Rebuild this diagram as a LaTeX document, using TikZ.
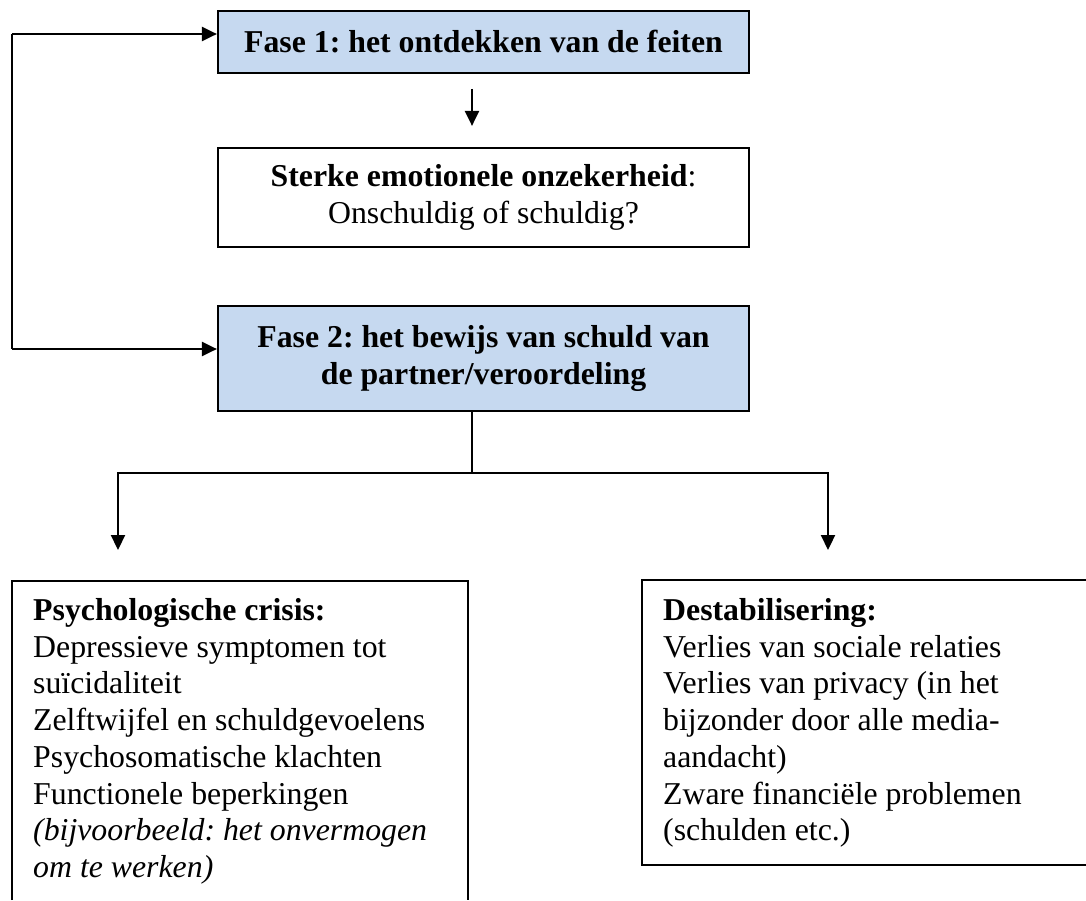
\documentclass[tikz,border=0pt]{standalone}
\usepackage{fontspec}
\setmainfont{Liberation Serif}
\usetikzlibrary{arrows.meta}
\definecolor{phaseblue}{RGB}{198,217,240}
\tikzset{
  txt/.style={font=\fontsize{31.8}{36.7}\selectfont\frenchspacing, inner sep=0pt},
  phasebox/.style={draw=black, line width=2.2pt, fill=phaseblue, txt, align=center, minimum width=531pt},
  plainbox/.style={draw=black, line width=2.2pt, fill=white, txt, align=center, minimum width=531pt},
  arr/.style={line width=2.2pt, -{Triangle[length=15pt,width=14pt]}},
  conn/.style={line width=2.2pt},
  thinconn/.style={line width=1.3pt},
}
\begin{document}
\begin{tikzpicture}[x=1pt,y=-1pt]
\useasboundingbox (0,0) rectangle (1086,900);
% top boxes
\node[phasebox, minimum height=62pt] (f1) at (483.5,41.7) {\textbf{Fase 1: het ontdekken van de feiten}};
\node[plainbox, minimum height=99pt] (st) at (483.5,197.5) {\textbf{Sterke emotionele onzekerheid}:\\Onschuldig of schuldig?};
\node[phasebox, minimum height=105pt] (f2) at (483.5,358.5) {\textbf{Fase 2: het bewijs van schuld van}\\\textbf{de partner/veroordeling}};
% arrow f1 -> st
\draw[arr] ([xshift=-11.5pt,yshift=-15pt]f1.south) -- ([xshift=-11.5pt,yshift=21pt]st.north);
% feedback loop
\coordinate (lt) at (12,34);
\coordinate (lb) at (12,349);
\draw[arr] (lt) -- (lt -| f1.west);
\draw[conn] (lt) -- (lb);
\draw[arr] (lb) -- (lb -| f2.west);
% split
\coordinate (split) at (472,473);
\coordinate (la) at (118,550);
\coordinate (ra) at (828,550);
\draw[thinconn] ([xshift=-11.5pt]f2.south) -- (split);
\draw[arr] (split) -| (la);
\draw[arr] (split) -| (ra);
% lower left box (open at bottom)
\draw[conn] (12,900) -- (12,581) -- (468,581) -- (468,900);
\node[txt, anchor=north west, align=left] (psy) at (33,598.3) {\textbf{Psychologische crisis:}\\
Depressieve symptomen tot\\
suïcidaliteit\\
Zelftwijfel en schuldgevoelens\\
Psychosomatische klachten\\
Functionele beperkingen\\
\textit{(bijvoorbeeld: het onvermogen}\\
\textit{om te werken)}};
% lower right box (open at right)
\draw[conn] (1086,580) -- (642,580) -- (642,865) -- (1086,865);
\node[txt, anchor=north west, align=left] (des) at (663,598.3) {\textbf{Destabilisering:}\\
Verlies van sociale relaties\\
Verlies van privacy (in het\\
bijzonder door alle media-\\
aandacht)\\
Zware financiële problemen\\
(schulden etc.)};
\end{tikzpicture}
\end{document}
